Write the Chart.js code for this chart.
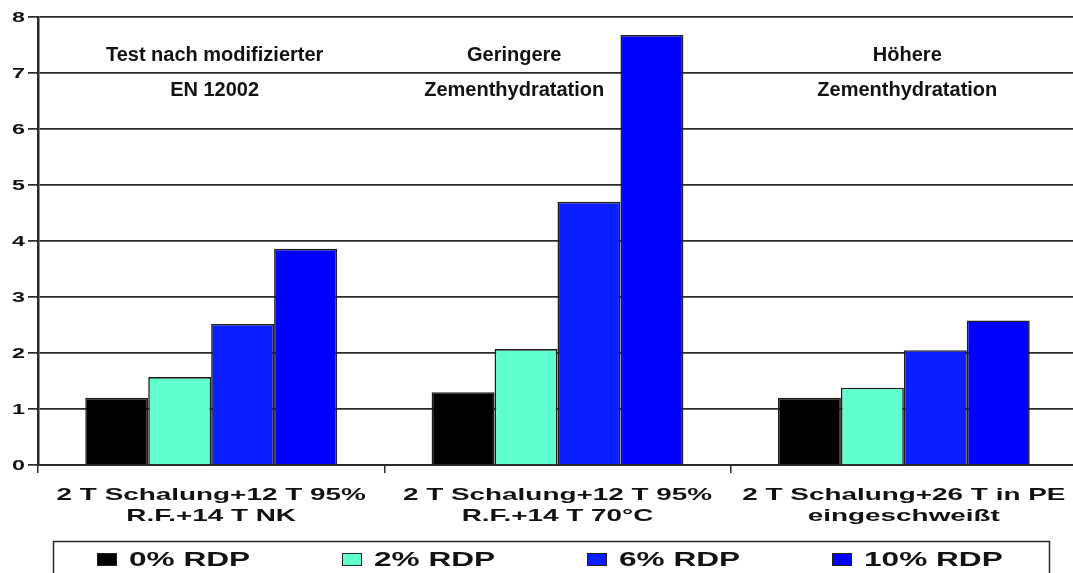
<!DOCTYPE html>
<html>
<head>
<meta charset="utf-8">
<script src="https://cdn.jsdelivr.net/npm/chart.js@4/dist/chart.umd.min.js"></script>
<style>
  html, body { margin: 0; padding: 0; background: #fff; overflow: hidden; }
  #wrap { width: 1073px; height: 573px; overflow: hidden; }
</style>
</head>
<body>
<div id="wrap"><canvas id="c" width="1077" height="573"></canvas></div>
<script>
// Test conditions (two-line axis labels)
const categories = [
  ['2 T Schalung+12 T 95%', 'R.F.+14 T NK'],
  ['2 T Schalung+12 T 95%', 'R.F.+14 T 70°C'],
  ['2 T Schalung+26 T in PE', 'eingeschweißt']
];

// Series labels and values
const seriesLabels = ['0% RDP', '2% RDP', '6% RDP', '10% RDP'];
const rdp0  = [1.2, 1.3, 1.2];
const rdp2  = [1.57, 2.07, 1.38];
const rdp6  = [2.52, 4.7, 2.05];
const rdp10 = [3.86, 7.68, 2.58];

const seriesColors = ['#000000', '#5fffd0', '#0a1eff', '#0000ff'];

// Y axis ticks
const yTicks = [0, 1, 2, 3, 4, 5, 6, 7, 8];

// Notes placed inside the plot (x in category units, y in value units)
const notes = [
  { x: 0.01, y: 7.22, text: 'Test nach modifizierter' },
  { x: 0.01, y: 6.59, text: 'EN 12002' },
  { x: 0.875, y: 7.22, text: 'Geringere' },
  { x: 0.875, y: 6.59, text: 'Zementhydratation' },
  { x: 2.01, y: 7.22, text: 'Höhere' },
  { x: 2.01, y: 6.59, text: 'Zementhydratation' }
];

const TEXT = '#121210';
const LINE = '#2a2a24';
const FONT = '"Liberation Sans", Arial, Helvetica, sans-serif';

// Draw text with a horizontal stretch factor
function wideText(ctx, text, x, y, sx, align, baseline) {
  ctx.save();
  ctx.translate(x, y);
  ctx.scale(sx, 1);
  ctx.textAlign = align;
  ctx.textBaseline = baseline || 'alphabetic';
  ctx.fillText(text, 0, 0);
  ctx.restore();
}

const textPlugin = {
  id: 'textLayer',
  afterDraw(chart) {
    const ctx = chart.ctx;
    const xs = chart.scales.x, ys = chart.scales.y;
    ctx.save();
    ctx.fillStyle = TEXT;

    // Y tick labels
    ctx.font = 'bold 15px ' + FONT;
    yTicks.forEach(v => {
      wideText(ctx, String(v), xs.left - 13, ys.getPixelForValue(v) + 0.5, 1.55, 'right', 'middle');
    });

    // Category labels
    ctx.font = 'bold 17px ' + FONT;
    categories.forEach((lines, i) => {
      const cx = xs.getPixelForValue(i);
      lines.forEach((t, k) => {
        wideText(ctx, t, cx, 500 + k * 21, 1.64, 'center');
      });
    });

    // Notes in plot area
    ctx.font = 'bold 20px ' + FONT;
    const cw = (xs.right - xs.left) / categories.length;
    notes.forEach(n => {
      const px = xs.left + (n.x + 0.5) * cw;
      wideText(ctx, n.text, px, ys.getPixelForValue(n.y), 1, 'center');
    });

    // Legend box
    ctx.strokeStyle = LINE;
    ctx.lineWidth = 1.5;
    ctx.strokeRect(53.5, 541.5, 996, 60);

    ctx.font = 'bold 20px ' + FONT;
    chart.data.datasets.forEach((ds, i) => {
      const lx = 97 + i * 245;
      ctx.fillStyle = ds.backgroundColor;
      ctx.fillRect(lx, 553, 20, 13);
      ctx.strokeStyle = '#222';
      ctx.lineWidth = 1;
      ctx.strokeRect(lx + 0.5, 553.5, 19, 12);
      ctx.fillStyle = TEXT;
      wideText(ctx, ds.label, lx + 32, 566, 1.58, 'left');
    });
    ctx.restore();
  }
};

const values = [rdp0, rdp2, rdp6, rdp10];

new Chart(document.getElementById('c'), {
  type: 'bar',
  data: {
    labels: categories,
    datasets: seriesLabels.map((label, i) => ({
      label,
      data: values[i],
      backgroundColor: seriesColors[i],
      borderColor: '#1e1e1a',
      borderWidth: 1.6,
      barPercentage: 1.0,
      categoryPercentage: 0.727
    }))
  },
  options: {
    responsive: false,
    animation: false,
    devicePixelRatio: 1,
    layout: { padding: { top: 17, right: 0, left: 0, bottom: 0 } },
    plugins: { legend: { display: false }, tooltip: { enabled: false } },
    scales: {
      x: {
        offset: true,
        ticks: { display: false },
        grid: { display: true, drawOnChartArea: false, offset: true, tickLength: 8, color: LINE, lineWidth: 1.5 },
        border: { display: true, color: LINE, width: 2 },
        afterFit(s) { s.height = 108; }
      },
      y: {
        min: 0,
        max: 8,
        ticks: { display: false, stepSize: 1 },
        grid: { color: LINE, lineWidth: 1.7, tickLength: 10 },
        border: { display: true, color: LINE, width: 2.5 },
        afterFit(s) { s.width = 38; }
      }
    }
  },
  plugins: [textPlugin]
});
</script>
</body>
</html>
